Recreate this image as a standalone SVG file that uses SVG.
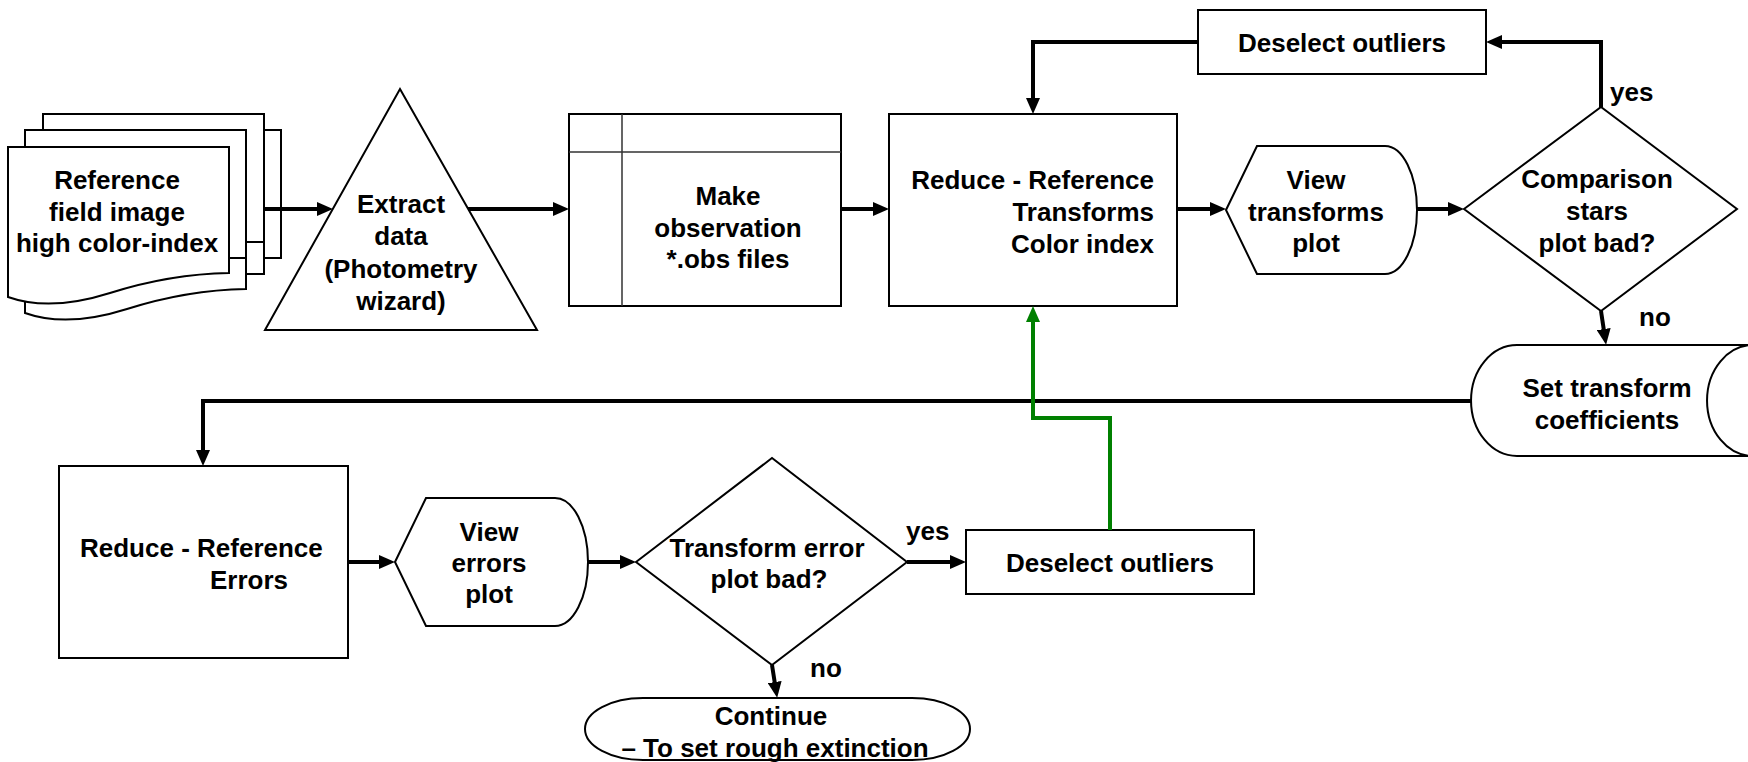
<svg xmlns="http://www.w3.org/2000/svg" width="1748" height="762" viewBox="0 0 1748 762">
<defs>
<style>
.s{fill:#fff;stroke:#000;stroke-width:2}
.t{font-family:"Liberation Sans",Arial,sans-serif;font-weight:bold;font-size:26px;fill:#000}
.m{text-anchor:middle}
.e{text-anchor:end}
.c{fill:none;stroke:#000;stroke-width:4}
.g{fill:none;stroke:#008000;stroke-width:4}
.in{fill:none;stroke:#333;stroke-width:1.5}
</style>
<marker id="ah" markerUnits="userSpaceOnUse" markerWidth="16" markerHeight="14" refX="4" refY="7" orient="auto">
<path d="M0,0 L16,7 L0,14 Z" fill="#000"/>
</marker>
<marker id="ahg" markerUnits="userSpaceOnUse" markerWidth="16" markerHeight="14" refX="4" refY="7" orient="auto">
<path d="M0,0 L16,7 L0,14 Z" fill="#008000"/>
</marker>
</defs>
<rect width="1748" height="762" fill="#fff"/>

<g id="doc-stack">
<rect class="s" x="60" y="130" width="221" height="128"/>
<rect class="s" x="42" y="146" width="222" height="128"/>
<path class="s" d="M25,163 H246 V289 Q187,290 127,309 T25,313 Z"/>
<rect class="s" x="43" y="114" width="221" height="128"/>
<rect class="s" x="25" y="130" width="221" height="128"/>
<path class="s" d="M8,147 H229 V273 Q170,274 110,293 T8,297 Z"/>
<text class="t m" x="117" y="189">Reference</text>
<text class="t m" x="117" y="221">field image</text>
<text class="t m" x="117" y="252">high color-index</text>
</g>

<g id="extract">
<path class="s" d="M400,89 L537,330 L265,330 Z" stroke-width="1.6"/>
<text class="t m" x="401" y="213">Extract</text>
<text class="t m" x="401" y="245">data</text>
<text class="t m" x="401" y="278">(Photometry</text>
<text class="t m" x="401" y="310">wizard)</text>
</g>

<g id="make-obs">
<rect class="s" x="569" y="114" width="272" height="192"/>
<path class="in" d="M569,152 H841 M622,114 V306"/>
<text class="t m" x="728" y="205">Make</text>
<text class="t m" x="728" y="237">observation</text>
<text class="t m" x="728" y="268">*.obs files</text>
</g>

<g id="reduce-transforms">
<rect class="s" x="889" y="114" width="288" height="192"/>
<text class="t e" x="1154" y="189">Reduce - Reference</text>
<text class="t e" x="1154" y="221">Transforms</text>
<text class="t e" x="1154" y="253">Color index</text>
</g>

<g id="view-transforms">
<path class="s" d="M1226,210 L1257,146 H1385 A32,64 0 0 1 1385,274 H1257 Z" stroke-width="1.6"/>
<text class="t m" x="1316" y="189">View</text>
<text class="t m" x="1316" y="221">transforms</text>
<text class="t m" x="1316" y="252">plot</text>
</g>

<g id="comparison-decision">
<path class="s" d="M1464,209 L1601,107 L1737,209 L1601,311 Z" stroke-width="1.6"/>
<text class="t m" x="1597" y="188">Comparison</text>
<text class="t m" x="1597" y="220">stars</text>
<text class="t m" x="1597" y="252">plot bad?</text>
</g>

<g id="deselect-top">
<rect class="s" x="1198" y="10" width="288" height="64"/>
<text class="t m" x="1342" y="52">Deselect outliers</text>
</g>

<g id="set-transform">
<path class="s" d="M1517,345 H1753 A46,55.5 0 0 0 1753,456 H1517 A46,55.5 0 0 1 1517,345 Z" stroke-width="1.6"/>
<text class="t m" x="1607" y="397">Set transform</text>
<text class="t m" x="1607" y="429">coefficients</text>
</g>

<g id="reduce-errors">
<rect class="s" x="59" y="466" width="289" height="192"/>
<text class="t" x="80" y="557">Reduce - Reference</text>
<text class="t" x="210" y="589">Errors</text>
</g>

<g id="view-errors">
<path class="s" d="M395,562 L426,498 H555 A33,64 0 0 1 555,626 H426 Z" stroke-width="1.6"/>
<text class="t m" x="489" y="541">View</text>
<text class="t m" x="489" y="572">errors</text>
<text class="t m" x="489" y="603">plot</text>
</g>

<g id="error-decision">
<path class="s" d="M636,562 L772,458 L907,562 L772,665 Z" stroke-width="1.6"/>
<text class="t m" x="767" y="557">Transform error</text>
<text class="t m" x="769" y="588">plot bad?</text>
</g>

<g id="deselect-bottom">
<rect class="s" x="966" y="530" width="288" height="64"/>
<text class="t m" x="1110" y="572">Deselect outliers</text>
</g>

<g id="continue">
<rect class="s" x="585" y="698" width="385" height="62" rx="58" ry="31" stroke-width="1.6"/>
<text class="t m" x="771" y="725">Continue</text>
<text class="t m" x="775" y="757">– To set rough extinction</text>
</g>

<g id="connectors">
<path class="c" d="M265,209 H321" marker-end="url(#ah)"/>
<path class="c" d="M468,209 H557" marker-end="url(#ah)"/>
<path class="c" d="M841,209 H877" marker-end="url(#ah)"/>
<path class="c" d="M1177,209 H1214" marker-end="url(#ah)"/>
<path class="c" d="M1417,209 H1452" marker-end="url(#ah)"/>
<path class="c" d="M1601,107 V42 H1498" marker-end="url(#ah)"/>
<path class="c" d="M1198,42 H1033 V102" marker-end="url(#ah)"/>
<path class="c" d="M1601,311 L1604.3,333" marker-end="url(#ah)"/>
<path class="c" d="M1471,401 H203 V454" marker-end="url(#ah)"/>
<path class="c" d="M348,562 H383" marker-end="url(#ah)"/>
<path class="c" d="M588,562 H624" marker-end="url(#ah)"/>
<path class="c" d="M907,562 H954" marker-end="url(#ah)"/>
<path class="c" d="M772,665 L775.3,686" marker-end="url(#ah)"/>
<path class="g" d="M1110,530 V418 H1033 V318" marker-end="url(#ahg)"/>
<text class="t" x="1610" y="101">yes</text>
<text class="t" x="1639" y="326">no</text>
<text class="t" x="906" y="540">yes</text>
<text class="t" x="810" y="677">no</text>
</g>
</svg>
